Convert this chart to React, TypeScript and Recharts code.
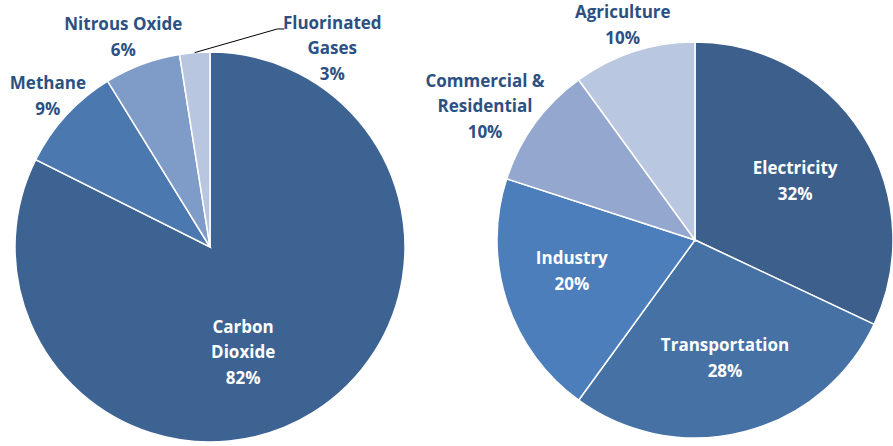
import React from 'react';
import { PieChart, Pie, Cell } from 'recharts';

// Left pie: greenhouse gases
const gasNames = [['Carbon', 'Dioxide'], ['Methane'], ['Nitrous Oxide'], ['Fluorinated', 'Gases']];
const gasValues = [82.4, 8.8, 6.3, 2.5];
const gasPercents = ['82%', '9%', '6%', '3%'];

// Right pie: sectors
const sectorNames = [['Electricity'], ['Transportation'], ['Industry'], ['Commercial &', 'Residential'], ['Agriculture']];
const sectorValues = [32, 28, 20, 10, 10];
const sectorPercents = ['32%', '28%', '20%', '10%', '10%'];

const gasColors = ['#3D6393', '#4A78AF', '#7F9BC7', '#B8C6E0'];
const sectorColors = ['#3C5F8C', '#4571A5', '#4B7EBB', '#94A8CF', '#BAC7E0'];

// label placement (radius factor, angle offset from slice middle, light/dark text)
const gasLabelRadius = [0.56, 1.14, 1.17, 1.2];
const gasLabelDelta = [-14, -0.7, 2, -36];
const gasLabelInside = [true, false, false, false];
const sectorLabelRadius = [0.59, 0.61, 0.64, 1.26, 1.15];
const sectorLabelDelta = [-1.4, 0, -4.4, 3.3, 0.5];
const sectorLabelInside = [true, true, true, false, false];

const gasData = gasNames.map((n, i) => ({ name: n.join(' '), value: gasValues[i] }));
const sectorData = sectorNames.map((n, i) => ({ name: n.join(' '), value: sectorValues[i] }));

const RAD = Math.PI / 180;
const DARK = '#2C5082';
const LINE_H = 25.5;

function makeLabel(
  names: string[][],
  percents: string[],
  radius: number[],
  delta: number[],
  inside: boolean[],
  leaderIndex: number
) {
  return (props: any) => {
    const { cx, cy, midAngle, outerRadius, index } = props;
    const ang = (midAngle + delta[index]) * RAD;
    const r = outerRadius * radius[index];
    const x = cx + r * Math.cos(ang);
    const y = cy - r * Math.sin(ang);
    const lines = [...names[index], percents[index]];
    const top = y - ((lines.length - 1) * LINE_H) / 2;
    const fill = inside[index] ? '#FFFFFF' : DARK;
    let leader = null;
    if (index === leaderIndex) {
      const ma = midAngle * RAD;
      const sx = cx + outerRadius * Math.cos(ma);
      const sy = cy - outerRadius * Math.sin(ma);
      const ex = x - 55;
      const ey = top + 7;
      leader = (
        <polyline
          points={`${sx},${sy} ${ex},${ey} ${ex + 7},${ey}`}
          fill="none"
          stroke="#000"
          strokeWidth={1}
        />
      );
    }
    return (
      <g key={`lab-${index}`}>
        {leader}
        <text
          x={x}
          y={top}
          textAnchor="middle"
          dominantBaseline="central"
          fill={fill}
          fontFamily="'Open Sans', Lato, sans-serif"
          fontWeight={700}
          fontSize={17}
        >
          {lines.map((l, k) => (
            <tspan key={k} x={x} y={top + k * LINE_H} dominantBaseline="central">
              {l}
            </tspan>
          ))}
        </text>
      </g>
    );
  };
}

export default function App() {
  return (
    <div style={{ position: 'absolute', left: 0, top: 0, width: 893, height: 446, background: '#fff' }}>
      <PieChart width={893} height={446} margin={{ top: 0, right: 0, bottom: 0, left: 0 }}>
        <Pie
          data={gasData}
          dataKey="value"
          nameKey="name"
          cx={210}
          cy={247}
          outerRadius={195}
          startAngle={90}
          endAngle={-270}
          stroke="#FFFFFF"
          strokeWidth={1.5}
          isAnimationActive={false}
          labelLine={false}
          label={makeLabel(gasNames, gasPercents, gasLabelRadius, gasLabelDelta, gasLabelInside, 3)}
        >
          {gasData.map((d, i) => (
            <Cell key={d.name} fill={gasColors[i]} />
          ))}
        </Pie>
        <Pie
          data={sectorData}
          dataKey="value"
          nameKey="name"
          cx={695}
          cy={240}
          outerRadius={198}
          startAngle={90}
          endAngle={-270}
          stroke="#FFFFFF"
          strokeWidth={1.5}
          isAnimationActive={false}
          labelLine={false}
          label={makeLabel(sectorNames, sectorPercents, sectorLabelRadius, sectorLabelDelta, sectorLabelInside, -1)}
        >
          {sectorData.map((d, i) => (
            <Cell key={d.name} fill={sectorColors[i]} />
          ))}
        </Pie>
      </PieChart>
    </div>
  );
}
